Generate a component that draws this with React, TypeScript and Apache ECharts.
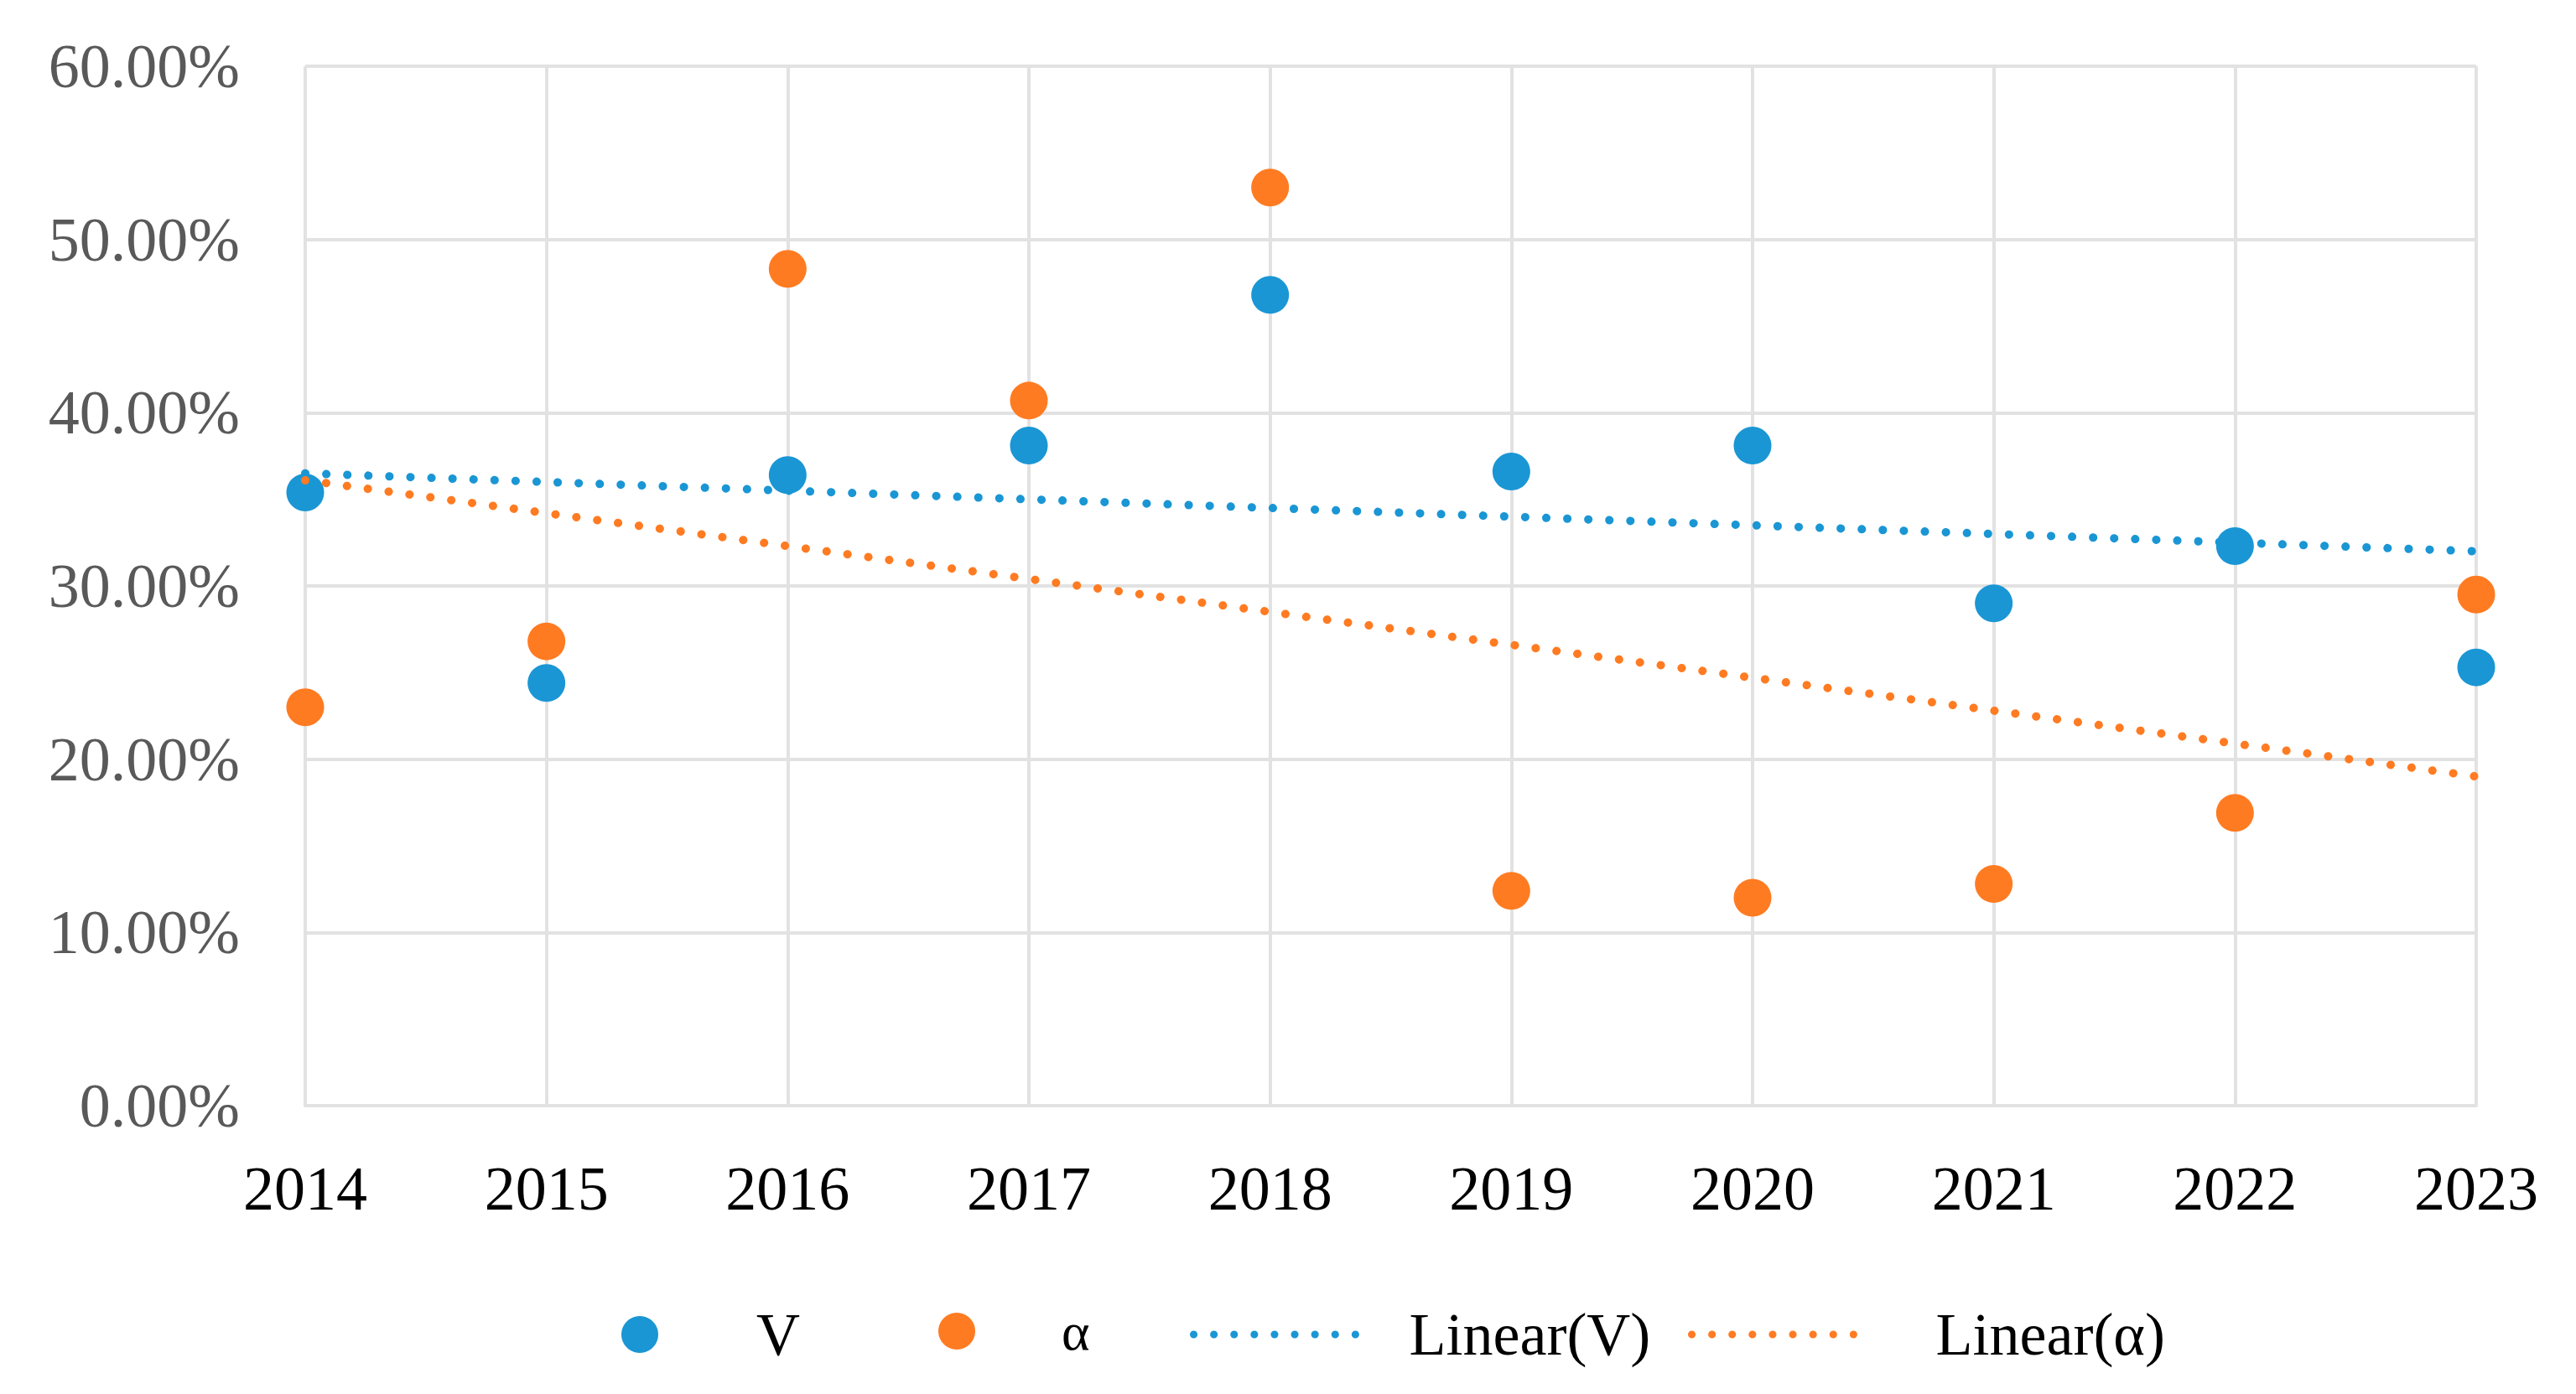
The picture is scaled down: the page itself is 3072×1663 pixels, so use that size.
import React, { useEffect, useRef } from "react";
import * as echarts from "echarts";

const years = ["2014", "2015", "2016", "2017", "2018", "2019", "2020", "2021", "2022", "2023"];
const vValues = [35.4, 24.4, 36.4, 38.1, 46.8, 36.6, 38.1, 29.0, 32.3, 25.3];
const alphaValues = [23.0, 26.8, 48.3, 40.7, 53.0, 12.4, 12.0, 12.8, 16.9, 29.5];
// trend line end points (first year, last year)
const vTrend = [36.5, 32.0];
const alphaTrend = [36.1, 19.0];
const yTicks = { min: 0, max: 60, interval: 10 };

const BLUE = "#1a96d4";
const ORANGE = "#ff7b22";
const GRID = "#e2e2e2";
const FONT = "'Liberation Serif', 'DejaVu Serif', serif";

export default function App() {
  const ref = useRef<HTMLDivElement>(null);
  useEffect(() => {
    if (!ref.current) return;
    const chart = echarts.init(ref.current, undefined, { renderer: "svg" });
    const dotted = (c: string) => ({ color: c, width: 10, type: [0.1, 25], cap: "round" as const });
    const legendBase = {
      top: 1551,
      orient: "horizontal" as const,
      selectedMode: false,
      textStyle: { fontFamily: FONT, fontSize: 72, color: "#000" },
    };
    chart.setOption({
      animation: false,
      backgroundColor: "#fff",
      grid: { left: 364, right: 119, top: 79, bottom: 344, containLabel: false },
      xAxis: {
        type: "category",
        data: years,
        boundaryGap: false,
        axisLine: { show: true, lineStyle: { color: GRID, width: 4 } },
        axisTick: { show: false },
        axisLabel: { margin: 62, fontFamily: FONT, fontSize: 74, color: "#000" },
        splitLine: { show: true, lineStyle: { color: GRID, width: 4 } },
      },
      yAxis: {
        type: "value",
        min: yTicks.min,
        max: yTicks.max,
        interval: yTicks.interval,
        axisLine: { show: false },
        axisTick: { show: false },
        axisLabel: {
          margin: 78,
          fontFamily: FONT,
          fontSize: 74,
          color: "#595959",
          formatter: (v: number) => `${v.toFixed(2)}%`,
        },
        splitLine: { show: true, lineStyle: { color: GRID, width: 4 } },
      },
      legend: [
        {
          ...legendBase,
          left: 736,
          data: [{ name: "V", icon: "circle" }],
          itemWidth: 44,
          itemHeight: 44,
          textStyle: { ...legendBase.textStyle, padding: [0, 0, 0, 112] },
        },
        {
          ...legendBase,
          left: 1114,
          data: [{ name: "α", icon: "circle" }],
          itemWidth: 44,
          itemHeight: 44,
          textStyle: { ...legendBase.textStyle, fontSize: 64, padding: [18, 0, 0, 98] },
        },
        {
          ...legendBase,
          left: 1414,
          data: ["Linear(V)"],
          itemWidth: 212,
          itemHeight: 44,
          itemStyle: { opacity: 0 },
          lineStyle: { color: BLUE, width: 9, type: [0.1, 24], cap: "round" },
          textStyle: { ...legendBase.textStyle, padding: [0, 0, 0, 40] },
        },
        {
          ...legendBase,
          left: 2008,
          data: ["Linear(α)"],
          itemWidth: 212,
          itemHeight: 44,
          itemStyle: { opacity: 0 },
          lineStyle: { color: ORANGE, width: 9, type: [0.1, 24], cap: "round" },
          textStyle: { ...legendBase.textStyle, padding: [0, 0, 0, 74] },
        },
      ],
      series: [
        {
          name: "V",
          type: "scatter",
          data: vValues,
          symbolSize: 45,
          itemStyle: { color: BLUE, opacity: 1 },
        },
        {
          name: "α",
          type: "scatter",
          data: alphaValues,
          symbolSize: 45,
          itemStyle: { color: ORANGE, opacity: 1 },
        },
        {
          name: "Linear(V)",
          type: "line",
          data: [
            [years[0], vTrend[0]],
            [years[years.length - 1], vTrend[1]],
          ],
          symbol: "none",
          color: BLUE,
          lineStyle: dotted(BLUE),
        },
        {
          name: "Linear(α)",
          type: "line",
          data: [
            [years[0], alphaTrend[0]],
            [years[years.length - 1], alphaTrend[1]],
          ],
          symbol: "none",
          color: ORANGE,
          lineStyle: dotted(ORANGE),
        },
      ],
    });
    return () => chart.dispose();
  }, []);
  return (
    <div
      ref={ref}
      style={{ position: "fixed", left: 0, top: 0, width: 3072, height: 1663, background: "#fff" }}
    />
  );
}
